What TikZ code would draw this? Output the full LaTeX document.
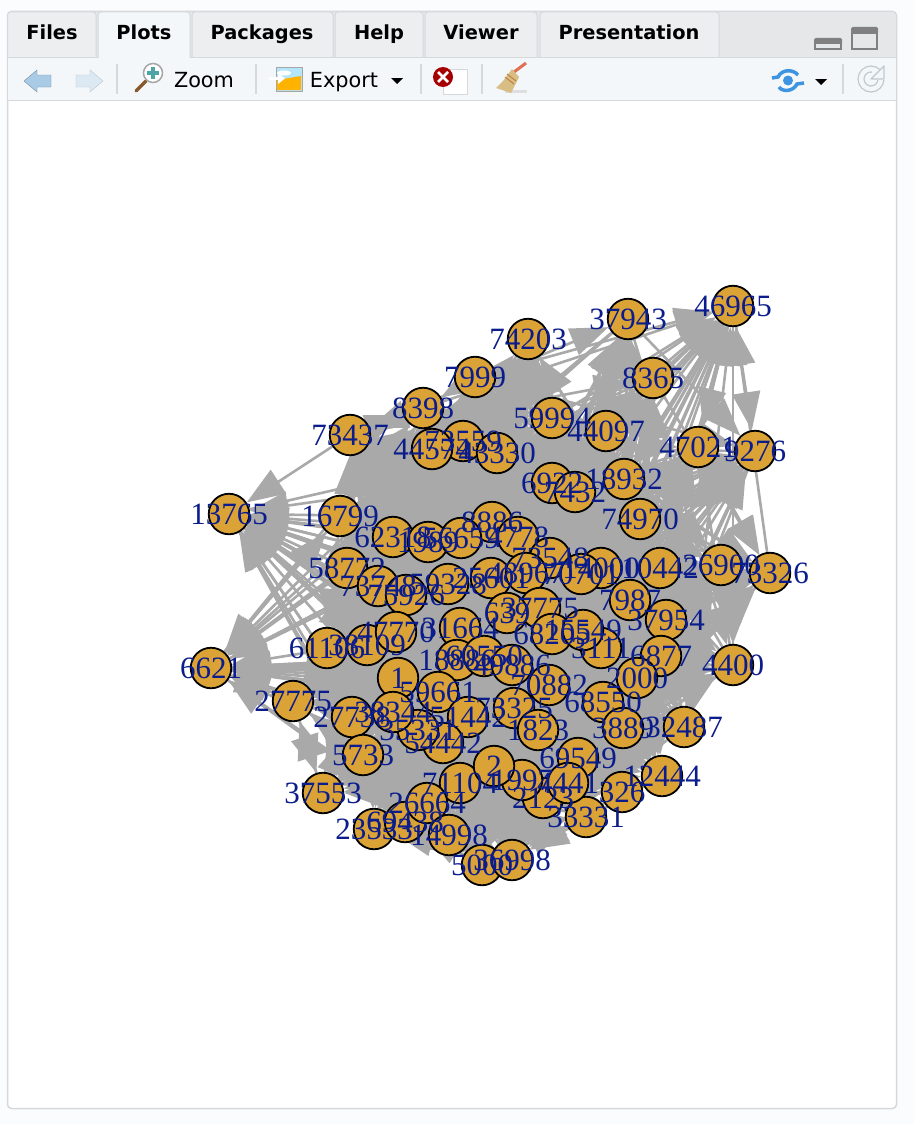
\documentclass[tikz,border=0pt]{standalone}
\usepackage{fontspec}
\setmainfont{Liberation Serif}
\newfontfamily\uifont{DejaVu Sans}
\usetikzlibrary{arrows.meta, backgrounds}
\definecolor{gold}{HTML}{DBA236}
\definecolor{navy}{HTML}{0B1D8C}
\definecolor{linkgrey}{HTML}{A9A9A9}
\definecolor{rulegrey}{HTML}{D6D9DC}
\definecolor{barfill}{HTML}{F3F7F9}
\definecolor{tabfill}{HTML}{ECEEF0}
\definecolor{stripfill}{HTML}{E5E7E9}
\definecolor{iconblue}{HTML}{A9CBE6}
\definecolor{paleblue}{HTML}{DCE9F2}
\definecolor{straw}{HTML}{D8BE85}
\definecolor{pubblue}{HTML}{3D94E0}
\tikzstyle{vertex} = [circle, minimum size=40.5pt, inner sep=0pt, draw=black, line width=1.8pt, fill=gold]
\tikzstyle{vlabel} = [text=navy, inner sep=0pt, font=\fontsize{31}{31}\selectfont]
\tikzstyle{link} = [draw=linkgrey, line width=2.6pt, -{Triangle[length=38pt,width=28pt]}]
\tikzstyle{tabbox} = [draw=rulegrey, line width=1pt, fill=tabfill, rounded corners=3pt]
\tikzstyle{tabtext} = [anchor=base, font=\uifont\bfseries\fontsize{19.4}{19.4}\selectfont, inner sep=0pt]
\tikzstyle{bartext} = [anchor=base, font=\uifont\fontsize{20.8}{20.8}\selectfont, inner sep=0pt]
\tikzstyle{sep} = [draw=rulegrey, line width=1.5pt]
\def\vertexlist{46965/733/306, 37943/628/319, 74203/528/339, 8365/653/378, 7999/475/377,
8398/423/408, 59994/552/418, 44097/606/431, 73437/350/435, 73559/463/441, 44574/432/449,
43330/497/453, 47021/698/447, 9276/755/451, 6922/552/483, 7432/575/492, 18932/624/479,
74970/640/519, 13765/229/514, 16799/340/516, 8886/492/522, 62318/393/537, 1989/428/542,
56659/461/538, 4778/518/537, 73548/550/558, 14000/601/568, 10442/660/568, 26900/721/565,
73326/770/573, 58772/347/568, 73748/378/586, 75926/406/595, 59328/448/584, 25601/491/578,
48967/526/573, 70701/581/574, 7987/630/600, 37954/666/620, 6877/661/656, 3111/601/648,
2000/637/678, 4400/733/665, 37775/540/608, 639/507/613, 68205/552/634, 15549/583/630,
61106/327/648, 38109/367/645, 47770/396/632, 31664/460/628, 18886/457/660, 60550/484/656,
49886/512/665, 70882/549/685, 1/398/678, 59661/438/692, 51442/468/717, 73325/514/708,
1823/538/730, 68550/603/702, 3889/623/728, 32487/684/727, 12444/662/776, 326/622/792,
69549/578/758, 33331/586/817, 2123/543/798, 1997/522/780, 4441/568/783, 71104/460/783,
2/494/766, 54442/443/743, 35331/418/730, 38344/393/712, 27738/352/717, 27775/293/701,
5733/363/755, 37553/323/793, 23533/374/829, 69438/405/822, 26664/427/803, 14998/449/835,
5000/482/865, 36998/512/860, 6621/211/668}
\begin{document}
\begin{tikzpicture}[x=1pt, y=-1pt]
\useasboundingbox (0,0) rectangle (914,1124);
\begin{pgfonlayer}{background}
% pane and toolbar
\fill [fill=white!60!barfill] (0,0) rectangle (914,1124);
\draw [draw=rulegrey, line width=1.5pt, fill=white, rounded corners=4pt] (7.5,11.5) rectangle (896.5,1108.5);
\fill [fill=stripfill, rounded corners=4pt] (8,12) rectangle (896,40);
\fill [fill=stripfill] (8,30) rectangle (896,57);
\draw [draw=rulegrey, line width=1.5pt, fill=barfill] (7.5,57.5) rectangle (896.5,100.5);
\path [tabbox, fill=barfill] (98,58) -- (98,12) -- (190,12) -- (190,58);
\end{pgfonlayer}
% vertices
\foreach \name/\x/\y in \vertexlist {
  \node (v\name) [vertex] at (\x,\y) {};
}
% far vertices send fewer links
\begin{pgfonlayer}{background}
\foreach \a/\ax/\ay [count=\i] in \vertexlist {
  \pgfmathtruncatemacro\afar{veclen(\ax-490,\ay-590)>215 ? 1 : 0}
  \foreach \b/\bx/\by [count=\j] in \vertexlist {
    \pgfmathtruncatemacro\bfar{veclen(\bx-490,\by-590)>215 ? 1 : 0}
    \pgfmathtruncatemacro\limit{\afar==1 ? 12 : (\bfar==1 ? 28 : 37)}
    \pgfmathtruncatemacro\hash{mod(mod(\i*37,101)*mod(\j*53,103)+\i+\j*7,97)}
    \ifnum\i=\j\else\ifnum\hash<\limit
      \draw [link] (v\a) -- (v\b);
    \fi\fi
  }
}
\end{pgfonlayer}
% labels go over all vertices
\foreach \name/\x/\y in \vertexlist {
  \node (l\name) [vlabel] at (v\name) {\name};
}
% tabs
\draw [tabbox] (7.5,57) -- (7.5,12) -- (96,12) -- (96,57);
\draw [tabbox] (192,57) -- (192,12) -- (333,12) -- (333,57);
\draw [tabbox] (335,57) -- (335,12) -- (423,12) -- (423,57);
\draw [tabbox] (425,57) -- (425,12) -- (537,12) -- (537,57);
\draw [tabbox] (540,57) -- (540,12) -- (719,12) -- (719,57);
\draw [draw=barfill, line width=2pt] (99,57.5) -- (189,57.5);
\node (files) [tabtext] at (52,40) {Files};
\node (plots) [tabtext] at (144,40) {Plots};
\node (packages) [tabtext] at (262,40) {Packages};
\node (help) [tabtext] at (379,40) {Help};
\node (viewer) [tabtext] at (481,40) {Viewer};
\node (presentation) [tabtext] at (629,40) {Presentation};
\node (zoom) [bartext] at (204,87) {Zoom};
\node (export) [bartext] at (344,87) {Export};
% separators
\foreach \x in {117,256,421,482,843} {
  \draw [sep] (\x,64) -- (\x,94);
}
% back and forward
\draw [draw=iconblue!70!black, fill=iconblue, line join=round] (24,81) -- (37,70) -- (37,75) -- (51,75) -- (51,87) -- (37,87) -- (37,92) -- cycle;
\draw [draw=paleblue!85!black, fill=paleblue, line join=round] (103,81) -- (90,70) -- (90,75) -- (76,75) -- (76,87) -- (90,87) -- (90,92) -- cycle;
% magnifier
\draw [draw=brown!70!black, line width=3.5pt, line cap=round] (136,91) -- (146,81);
\draw [draw=gray!70, line width=1.5pt, fill=white] (153,73) circle (9.5);
\fill [fill=teal!70] (151,67) rectangle (155,79);
\fill [fill=teal!70] (147,71) rectangle (159,75);
% export picture
\draw [draw=gray!70, fill=cyan!30] (276,67) rectangle (302,91);
\fill [fill=white] (284,73) ellipse (7 and 2.5);
\fill [fill=orange!60!yellow] (277,80) -- (301,76) -- (301,90) -- (277,90) -- cycle;
\fill [fill=white] (269,77) rectangle (278,80);
\fill [fill=white] (278,73) -- (285,78.5) -- (278,84) -- cycle;
\fill [fill=black] (391,78) -- (403,78) -- (397,84) -- cycle;
% clear one
\draw [draw=rulegrey, fill=white] (443,69) rectangle (467,94);
\fill [fill=red!65!black] (443,77) circle (10);
\draw [draw=white, line width=2.6pt] (438,72) -- (448,82);
\draw [draw=white, line width=2.6pt] (448,72) -- (438,82);
% broom
\fill [fill=gray!25] (505,90) -- (527,90) -- (527,93) -- (505,93) -- cycle;
\draw [draw=brown!60!red!80!white, line width=3pt] (514,72) -- (526,63);
\fill [fill=straw] (512,69) -- (519,77) -- (511,93) -- (496,88) -- (503,81) -- cycle;
\draw [draw=brown, line width=1pt] (505,77) -- (514,84);
\draw [draw=brown, line width=1pt] (507,74) -- (516,81);
% publish
\draw [draw=pubblue, line width=3.5pt] (772,78) -- (778,77) .. controls (782,69) and (793,69) .. (798,75);
\draw [draw=pubblue, line width=3.5pt] (804,83) -- (797,84) .. controls (793,92) and (782,92) .. (779,87);
\fill [fill=pubblue] (788,80.5) circle (5);
\fill [fill=black] (815,79) -- (827,79) -- (821,85) -- cycle;
% redo
\draw [draw=paleblue!70!gray, line width=1.2pt] (871,79) circle (13);
\draw [draw=paleblue!70!gray, line width=1.2pt, fill=barfill] (871,79) circle (7);
\fill [fill=barfill] (872,70) rectangle (886,80);
\draw [draw=paleblue!70!gray, fill=barfill, line width=1.2pt, line join=round] (884,66) -- (884,79) -- (871,79) -- cycle;
% min and max
\draw [draw=gray, line width=2pt] (815,49) rectangle (841,42);
\fill [fill=gray, rounded corners=1.5pt] (814,38) rectangle (842,44);
\draw [draw=gray, line width=2pt] (852,30) rectangle (877,49);
\fill [fill=gray, rounded corners=1.5pt] (851,27) rectangle (878,34);
\end{tikzpicture}
\end{document}
